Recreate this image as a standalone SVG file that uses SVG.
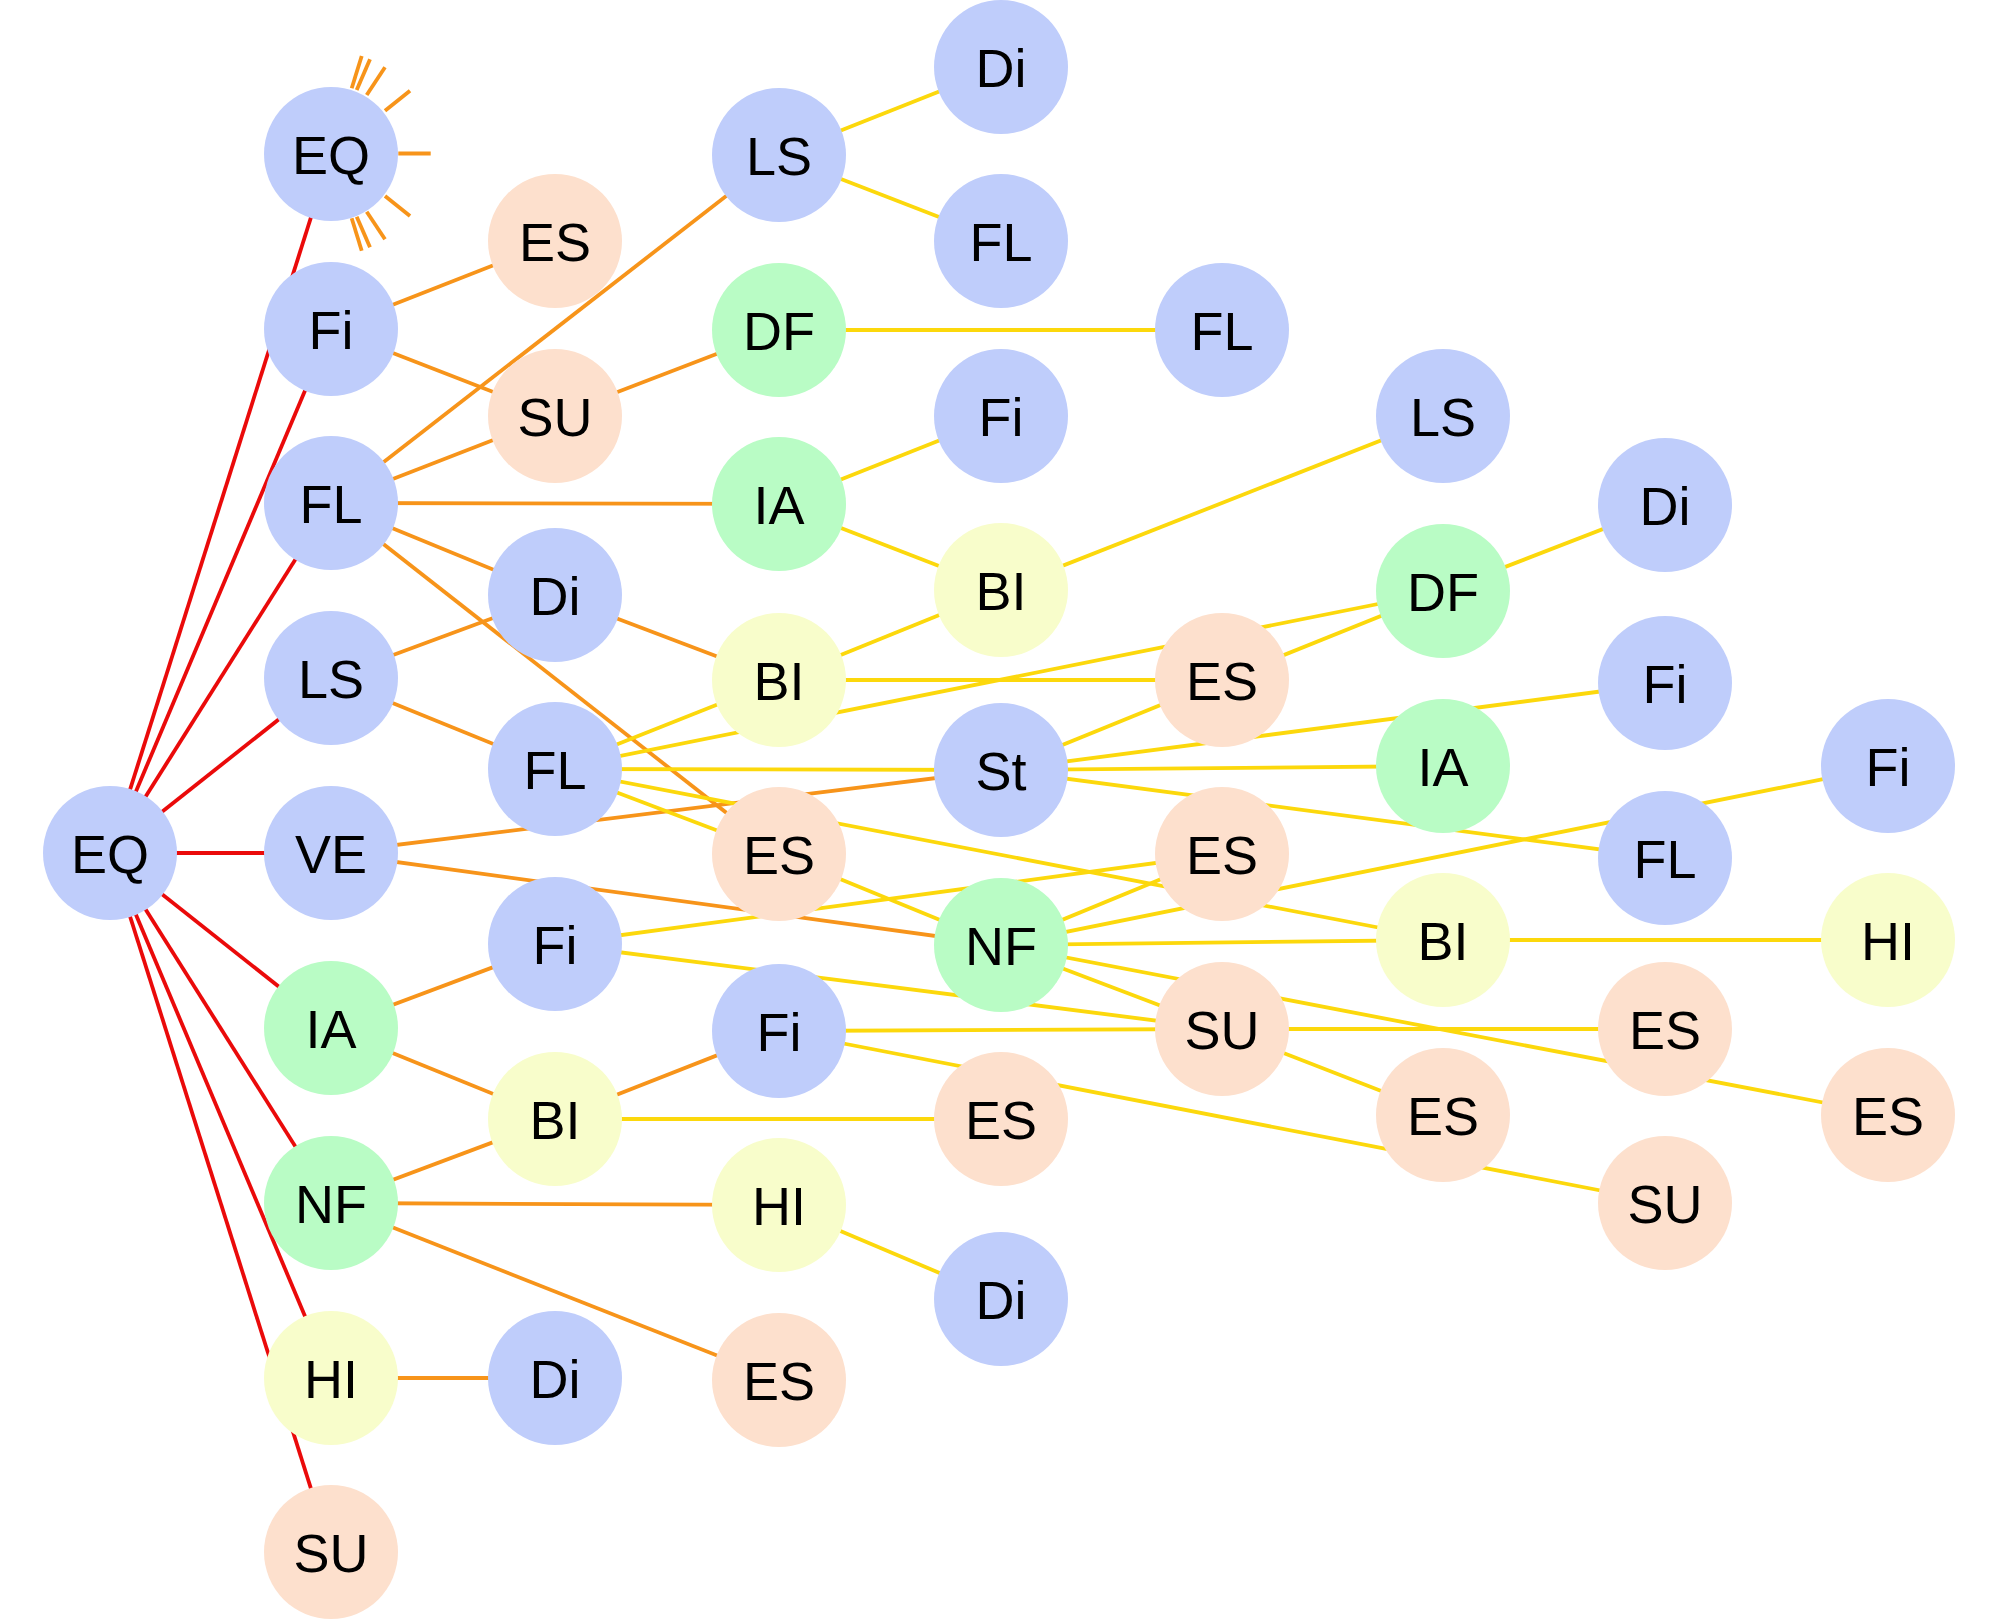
<svg xmlns="http://www.w3.org/2000/svg" width="1996" height="1620" viewBox="0 0 1996 1620">
<style>
.n circle{stroke:none}
.b{fill:#bfcdfb}.g{fill:#b9fcc5}.y{fill:#f8fdcb}.p{fill:#fde0cd}
text{font-family:"Liberation Sans",Arial,sans-serif;font-size:54px;fill:#000;text-anchor:middle}
.r{stroke:#ea0a0a;stroke-width:3.8}
.o{stroke:#f7941a;stroke-width:3.8}
.yl{stroke:#fcd80c;stroke-width:3.8}
</style>
<rect width="1996" height="1620" fill="#fff"/>
<g id="connectors" fill="none">
<g class="r">
<line x1="110" y1="853" x2="331" y2="154"/>
<line x1="110" y1="853" x2="331" y2="329"/>
<line x1="110" y1="853" x2="331" y2="503"/>
<line x1="110" y1="853" x2="331" y2="678"/>
<line x1="110" y1="853" x2="331" y2="853"/>
<line x1="110" y1="853" x2="331" y2="1028"/>
<line x1="110" y1="853" x2="331" y2="1203"/>
<line x1="110" y1="853" x2="331" y2="1378"/>
<line x1="110" y1="853" x2="331" y2="1552"/>
</g>
<g class="o">
<line x1="351.7" y1="88.3" x2="361.7" y2="56"/>
<line x1="356.7" y1="90" x2="370" y2="59.3"/>
<line x1="366.7" y1="95" x2="385" y2="67.3"/>
<line x1="385" y1="110.7" x2="410" y2="90.7"/>
<line x1="398.3" y1="153.5" x2="430.7" y2="153.5"/>
<line x1="385" y1="196" x2="410" y2="216"/>
<line x1="366.7" y1="211.7" x2="385" y2="239.3"/>
<line x1="356.7" y1="216.7" x2="370" y2="247.3"/>
<line x1="351.7" y1="218.3" x2="361.7" y2="250.7"/>
<line x1="331" y1="329" x2="555" y2="241"/>
<line x1="331" y1="329" x2="555" y2="416"/>
<line x1="331" y1="503" x2="779" y2="155"/>
<line x1="331" y1="503" x2="555" y2="416"/>
<line x1="331" y1="503" x2="779" y2="504"/>
<line x1="331" y1="503" x2="555" y2="595"/>
<line x1="331" y1="503" x2="779" y2="854"/>
<line x1="331" y1="678" x2="555" y2="595"/>
<line x1="331" y1="678" x2="555" y2="769"/>
<line x1="331" y1="853" x2="1001" y2="770"/>
<line x1="331" y1="853" x2="1001" y2="945"/>
<line x1="331" y1="1028" x2="555" y2="944"/>
<line x1="331" y1="1028" x2="555" y2="1119"/>
<line x1="331" y1="1203" x2="555" y2="1119"/>
<line x1="331" y1="1203" x2="779" y2="1205"/>
<line x1="331" y1="1203" x2="779" y2="1380"/>
<line x1="331" y1="1378" x2="555" y2="1378"/>
<line x1="555" y1="416" x2="779" y2="330"/>
<line x1="555" y1="595" x2="779" y2="680"/>
<line x1="555" y1="1119" x2="779" y2="1031"/>
</g>
<g class="yl">
<line x1="779" y1="155" x2="1001" y2="67"/>
<line x1="779" y1="155" x2="1001" y2="241"/>
<line x1="779" y1="330" x2="1222" y2="330"/>
<line x1="779" y1="504" x2="1001" y2="416"/>
<line x1="779" y1="504" x2="1001" y2="590"/>
<line x1="1001" y1="590" x2="1443" y2="416"/>
<line x1="1443" y1="591" x2="1665" y2="505"/>
<line x1="555" y1="769" x2="779" y2="680"/>
<line x1="779" y1="680" x2="1001" y2="590"/>
<line x1="779" y1="680" x2="1222" y2="680"/>
<line x1="555" y1="769" x2="1443" y2="591"/>
<line x1="1222" y1="680" x2="1443" y2="591"/>
<line x1="555" y1="769" x2="1001" y2="770"/>
<line x1="1001" y1="770" x2="1443" y2="766"/>
<line x1="555" y1="769" x2="779" y2="854"/>
<line x1="555" y1="769" x2="1443" y2="940"/>
<line x1="779" y1="854" x2="1001" y2="945"/>
<line x1="1001" y1="770" x2="1222" y2="680"/>
<line x1="1001" y1="770" x2="1665" y2="683"/>
<line x1="1001" y1="770" x2="1665" y2="858"/>
<line x1="1001" y1="945" x2="1222" y2="854"/>
<line x1="1001" y1="945" x2="1888" y2="766"/>
<line x1="1001" y1="945" x2="1443" y2="940"/>
<line x1="1443" y1="940" x2="1888" y2="940"/>
<line x1="1001" y1="945" x2="1222" y2="1029"/>
<line x1="1001" y1="945" x2="1888" y2="1115"/>
<line x1="555" y1="944" x2="1222" y2="854"/>
<line x1="555" y1="944" x2="1222" y2="1029"/>
<line x1="779" y1="1031" x2="1222" y2="1029"/>
<line x1="1222" y1="1029" x2="1665" y2="1029"/>
<line x1="779" y1="1031" x2="1665" y2="1203"/>
<line x1="1222" y1="1029" x2="1443" y2="1115"/>
<line x1="555" y1="1119" x2="1001" y2="1119"/>
<line x1="779" y1="1205" x2="1001" y2="1299"/>
</g>
</g>
<g class="n">
<g id="n0"><circle class="b" cx="110" cy="853" r="67"/><text x="110" y="872.5">EQ</text></g>
<g id="a1"><circle class="b" cx="331" cy="154" r="67"/><text x="331" y="173.5">EQ</text></g>
<g id="a2"><circle class="b" cx="331" cy="329" r="67"/><text x="331" y="348.5">Fi</text></g>
<g id="a3"><circle class="b" cx="331" cy="503" r="67"/><text x="331" y="522.5">FL</text></g>
<g id="a4"><circle class="b" cx="331" cy="678" r="67"/><text x="331" y="697.5">LS</text></g>
<g id="a5"><circle class="b" cx="331" cy="853" r="67"/><text x="331" y="872.5">VE</text></g>
<g id="a6"><circle class="g" cx="331" cy="1028" r="67"/><text x="331" y="1047.5">IA</text></g>
<g id="a7"><circle class="g" cx="331" cy="1203" r="67"/><text x="331" y="1222.5">NF</text></g>
<g id="a8"><circle class="y" cx="331" cy="1378" r="67"/><text x="331" y="1397.5">HI</text></g>
<g id="a9"><circle class="p" cx="331" cy="1552" r="67"/><text x="331" y="1571.5">SU</text></g>
<g id="b1"><circle class="p" cx="555" cy="241" r="67"/><text x="555" y="260.5">ES</text></g>
<g id="b2"><circle class="p" cx="555" cy="416" r="67"/><text x="555" y="435.5">SU</text></g>
<g id="b3"><circle class="b" cx="555" cy="595" r="67"/><text x="555" y="614.5">Di</text></g>
<g id="b4"><circle class="b" cx="555" cy="769" r="67"/><text x="555" y="788.5">FL</text></g>
<g id="b5"><circle class="b" cx="555" cy="944" r="67"/><text x="555" y="963.5">Fi</text></g>
<g id="b6"><circle class="y" cx="555" cy="1119" r="67"/><text x="555" y="1138.5">BI</text></g>
<g id="b7"><circle class="b" cx="555" cy="1378" r="67"/><text x="555" y="1397.5">Di</text></g>
<g id="c1"><circle class="b" cx="779" cy="155" r="67"/><text x="779" y="174.5">LS</text></g>
<g id="c2"><circle class="g" cx="779" cy="330" r="67"/><text x="779" y="349.5">DF</text></g>
<g id="c3"><circle class="g" cx="779" cy="504" r="67"/><text x="779" y="523.5">IA</text></g>
<g id="c4"><circle class="y" cx="779" cy="680" r="67"/><text x="779" y="699.5">BI</text></g>
<g id="c5"><circle class="p" cx="779" cy="854" r="67"/><text x="779" y="873.5">ES</text></g>
<g id="c6"><circle class="b" cx="779" cy="1031" r="67"/><text x="779" y="1050.5">Fi</text></g>
<g id="c7"><circle class="y" cx="779" cy="1205" r="67"/><text x="779" y="1224.5">HI</text></g>
<g id="c8"><circle class="p" cx="779" cy="1380" r="67"/><text x="779" y="1399.5">ES</text></g>
<g id="d1"><circle class="b" cx="1001" cy="67" r="67"/><text x="1001" y="86.5">Di</text></g>
<g id="d2"><circle class="b" cx="1001" cy="241" r="67"/><text x="1001" y="260.5">FL</text></g>
<g id="d3"><circle class="b" cx="1001" cy="416" r="67"/><text x="1001" y="435.5">Fi</text></g>
<g id="d4"><circle class="y" cx="1001" cy="590" r="67"/><text x="1001" y="609.5">BI</text></g>
<g id="d5"><circle class="b" cx="1001" cy="770" r="67"/><text x="1001" y="789.5">St</text></g>
<g id="d6"><circle class="g" cx="1001" cy="945" r="67"/><text x="1001" y="964.5">NF</text></g>
<g id="d7"><circle class="p" cx="1001" cy="1119" r="67"/><text x="1001" y="1138.5">ES</text></g>
<g id="d8"><circle class="b" cx="1001" cy="1299" r="67"/><text x="1001" y="1318.5">Di</text></g>
<g id="e1"><circle class="b" cx="1222" cy="330" r="67"/><text x="1222" y="349.5">FL</text></g>
<g id="e2"><circle class="p" cx="1222" cy="680" r="67"/><text x="1222" y="699.5">ES</text></g>
<g id="e3"><circle class="p" cx="1222" cy="854" r="67"/><text x="1222" y="873.5">ES</text></g>
<g id="e4"><circle class="p" cx="1222" cy="1029" r="67"/><text x="1222" y="1048.5">SU</text></g>
<g id="f1"><circle class="b" cx="1443" cy="416" r="67"/><text x="1443" y="435.5">LS</text></g>
<g id="f2"><circle class="g" cx="1443" cy="591" r="67"/><text x="1443" y="610.5">DF</text></g>
<g id="f3"><circle class="g" cx="1443" cy="766" r="67"/><text x="1443" y="785.5">IA</text></g>
<g id="f4"><circle class="y" cx="1443" cy="940" r="67"/><text x="1443" y="959.5">BI</text></g>
<g id="f5"><circle class="p" cx="1443" cy="1115" r="67"/><text x="1443" y="1134.5">ES</text></g>
<g id="g1"><circle class="b" cx="1665" cy="505" r="67"/><text x="1665" y="524.5">Di</text></g>
<g id="g2"><circle class="b" cx="1665" cy="683" r="67"/><text x="1665" y="702.5">Fi</text></g>
<g id="g3"><circle class="b" cx="1665" cy="858" r="67"/><text x="1665" y="877.5">FL</text></g>
<g id="g4"><circle class="p" cx="1665" cy="1029" r="67"/><text x="1665" y="1048.5">ES</text></g>
<g id="g5"><circle class="p" cx="1665" cy="1203" r="67"/><text x="1665" y="1222.5">SU</text></g>
<g id="h1"><circle class="b" cx="1888" cy="766" r="67"/><text x="1888" y="785.5">Fi</text></g>
<g id="h2"><circle class="y" cx="1888" cy="940" r="67"/><text x="1888" y="959.5">HI</text></g>
<g id="h3"><circle class="p" cx="1888" cy="1115" r="67"/><text x="1888" y="1134.5">ES</text></g>
</g>
</svg>
